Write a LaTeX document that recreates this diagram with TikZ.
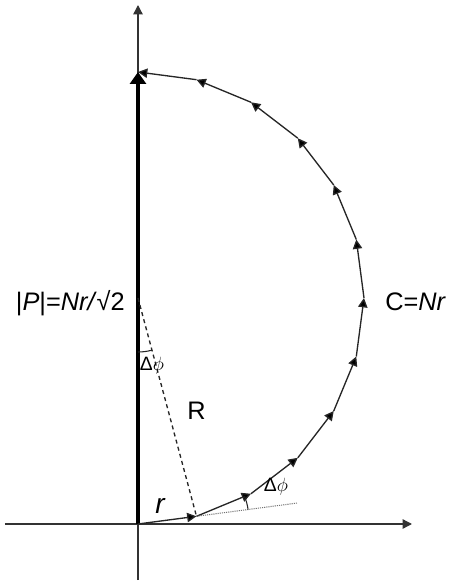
\documentclass[tikz,border=0pt]{standalone}
\usepackage{fontspec}
\setmainfont{Liberation Sans}
\usetikzlibrary{arrows.meta,calc}
\begin{document}
\begin{tikzpicture}[x=0.75pt,y=0.75pt,
  axisline/.style={line width=1pt,draw=black!80,-{Triangle[length=7pt,width=7pt]}},
  seg/.style={line width=1pt,draw=black!85,-{Triangle[length=7pt,width=7pt,fill=black]}},
  bigarrow/.style={line width=3.4pt,draw=black,-{Triangle[length=9pt,width=12pt]}},
  dashline/.style={line width=1pt,draw=black!85,dash pattern=on 3pt off 2.5pt},
  dotline/.style={line width=0.8pt,draw=black!55,dash pattern=on 0.8pt off 0.8pt},
  anglearc/.style={line width=0.8pt,draw=black!85},
  biglabel/.style={inner sep=0pt,font=\fontsize{19}{22}\selectfont},
  smalllabel/.style={inner sep=0pt,font=\fontsize{14.5}{16}\selectfont}]
\useasboundingbox (-138,-59) rectangle (317,524);
% axes
\coordinate (xl) at (-133,0);
\coordinate (xr) at (274,0);
\coordinate (yb) at (0,-56);
\coordinate (yt) at (0,519);
\draw[axisline] (xl) -- (xr);
\draw[axisline] (yb) -- (yt);
% vertices of the polygon
\coordinate (c) at (0,226);
\foreach \k in {0,...,12}{
  \coordinate (v\k) at ({226*sin(15*\k)},{226-226*cos(15*\k)});
}
% thick arrow P
\draw[bigarrow] (v0) -- (v12);
% polygon segments
\foreach \k in {0,...,11}{
  \pgfmathtruncatemacro{\nx}{\k+1}
  \draw[seg] (v\k) -- (v\nx);
}
% dashed radius
\draw[dashline] (c) -- (v1);
% dotted extension
\coordinate (ext) at ($(v1)+(7.5:102)$);
\draw[dotline] (v1) -- (ext);
% angle arcs
\draw[anglearc] ($(c)+(-90:54)$) arc[start angle=-90,end angle=-75,radius=54];
\draw[anglearc] ($(v1)+(7.5:52)$) arc[start angle=7.5,end angle=22.5,radius=52];
% labels
\node[biglabel,anchor=base east] (plabel) at (-13,214) {|\textit{P}|=\textit{Nr/}√2};
\node[biglabel,anchor=base west] (clabel) at (247,214) {C=\textit{Nr}};
\node[biglabel,anchor=base west] (rlabel) at (49,105) {R};
\node[biglabel,anchor=base west,font=\fontsize{21}{24}\selectfont] (slabel) at (17,11) {\textit{r}};
\node[smalllabel] (dphitop) at (14,158) {Δ$\phi$};
\node[smalllabel] (dphibot) at (138,37) {Δ$\phi$};
\end{tikzpicture}
\end{document}
